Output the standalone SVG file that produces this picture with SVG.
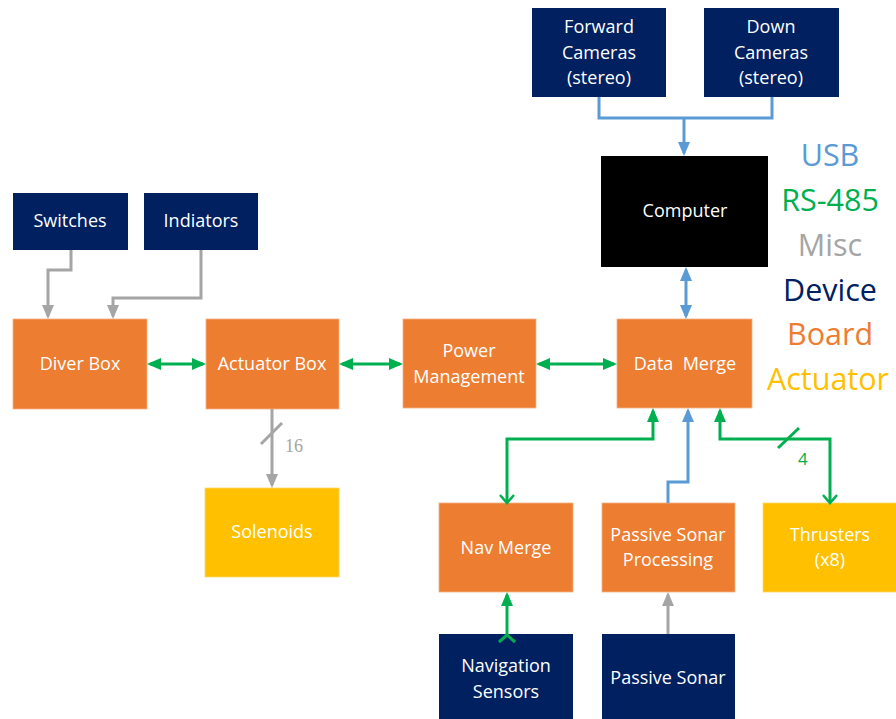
<svg xmlns="http://www.w3.org/2000/svg" width="896" height="719" viewBox="0 0 896 719">
<style>
.t{font-family:"Open Sans","Liberation Sans",sans-serif;font-size:18px;fill:#fff;text-anchor:middle}
.dev{fill:#002060}
.brd{fill:#ED7D31;stroke:#F4B183;stroke-width:0.8}
.act{fill:#FFC000;stroke:#FFD966;stroke-width:0.8}
.g{stroke:#00B050;stroke-width:3;fill:none}
.b{stroke:#5B9BD5;stroke-width:3;fill:none}
.m{stroke:#A5A5A5;stroke-width:3;fill:none}
.lg{font-family:"Open Sans","Liberation Sans",sans-serif;font-size:30.5px;text-anchor:middle}
.lab{font-family:"Open Sans","Liberation Sans",sans-serif;font-size:17px}
</style>
<defs>
<marker id="triG" markerUnits="userSpaceOnUse" markerWidth="14" markerHeight="12" refX="11" refY="6" orient="auto-start-reverse"><path d="M0,0 L14,6 L0,12 z" fill="#00B050"/></marker>
<marker id="triB" markerUnits="userSpaceOnUse" markerWidth="14" markerHeight="12" refX="11" refY="6" orient="auto-start-reverse"><path d="M0,0 L14,6 L0,12 z" fill="#5B9BD5"/></marker>
<marker id="triM" markerUnits="userSpaceOnUse" markerWidth="14" markerHeight="12" refX="11" refY="6" orient="auto-start-reverse"><path d="M0,0 L14,6 L0,12 z" fill="#A5A5A5"/></marker>
<marker id="chevG" markerUnits="userSpaceOnUse" markerWidth="12" markerHeight="16" refX="9" refY="8" orient="auto-start-reverse"><path d="M1,1 L9,8 L1,15" fill="none" stroke="#00B050" stroke-width="2.5"/></marker>
</defs>
<rect width="896" height="719" fill="#fff"/>

<g id="forward-cameras"><rect class="dev" x="532" y="8" width="134" height="89"/><text class="t" x="599" y="33">Forward</text><text class="t" x="599" y="59">Cameras</text><text class="t" x="599" y="84">(stereo)</text></g>
<g id="down-cameras"><rect class="dev" x="704" y="8" width="135" height="89"/><text class="t" x="771" y="33">Down</text><text class="t" x="771" y="59">Cameras</text><text class="t" x="771" y="84">(stereo)</text></g>
<g id="computer"><rect x="601" y="156" width="167" height="111" fill="#000"/><text class="t" x="685" y="217">Computer</text></g>
<g id="switches"><rect class="dev" x="13" y="193" width="115" height="57"/><text class="t" x="70" y="227">Switches</text></g>
<g id="indiators"><rect class="dev" x="144" y="193" width="114" height="57"/><text class="t" x="201" y="227">Indiators</text></g>
<g id="diver-box"><rect class="brd" x="13" y="319" width="134" height="90"/><text class="t" x="80" y="370">Diver Box</text></g>
<g id="actuator-box"><rect class="brd" x="206" y="319" width="133" height="90"/><text class="t" x="272" y="370">Actuator Box</text></g>
<g id="power-management"><rect class="brd" x="403" y="319" width="133" height="89"/><text class="t" x="469" y="357">Power</text><text class="t" x="469" y="383">Management</text></g>
<g id="data-merge"><rect class="brd" x="617" y="319" width="135" height="89"/><text class="t" x="685" y="370" xml:space="preserve">Data  Merge</text></g>
<g id="solenoids"><rect class="act" x="205" y="488" width="134" height="89"/><text class="t" x="272" y="538">Solenoids</text></g>
<g id="nav-merge"><rect class="brd" x="439" y="503" width="134" height="89"/><text class="t" x="506" y="554">Nav Merge</text></g>
<g id="passive-sonar-processing"><rect class="brd" x="602" y="503" width="133" height="89"/><text class="t" x="668" y="541">Passive Sonar</text><text class="t" x="668" y="566">Processing</text></g>
<g id="thrusters"><rect class="act" x="763" y="503" width="135" height="89"/><text class="t" x="830" y="541">Thrusters</text><text class="t" x="830" y="566">(x8)</text></g>
<g id="navigation-sensors"><rect class="dev" x="439" y="634" width="134" height="89"/><text class="t" x="506" y="672">Navigation</text><text class="t" x="506" y="698">Sensors</text></g>
<g id="passive-sonar"><rect class="dev" x="602" y="634" width="133" height="89"/><text class="t" x="668" y="684">Passive Sonar</text></g>

<g id="legend">
<text class="lg" x="830" y="166" fill="#5B9BD5">USB</text>
<text class="lg" x="830" y="211" fill="#00B050">RS-485</text>
<text class="lg" x="830" y="256" fill="#A5A5A5">Misc</text>
<text class="lg" x="830" y="301" fill="#002060">Device</text>
<text class="lg" x="830" y="345" fill="#ED7D31">Board</text>
<text class="lg" x="828" y="390" fill="#FFC000">Actuator</text>
</g>

<g id="connectors">
<polyline class="b" points="599,97 599,118 772,118 772,97"/>
<line class="b" x1="684" y1="118" x2="684" y2="153" marker-end="url(#triB)"/>
<line class="b" x1="686" y1="270" x2="686" y2="316" marker-start="url(#triB)" marker-end="url(#triB)"/>
<polyline class="m" points="71,250 71,270 48,270 48,316" marker-end="url(#triM)"/>
<polyline class="m" points="201,250 201,298 113,298 113,316" marker-end="url(#triM)"/>
<line class="g" x1="150" y1="364" x2="203" y2="364" marker-start="url(#triG)" marker-end="url(#triG)"/>
<line class="g" x1="342" y1="364" x2="400" y2="364" marker-start="url(#triG)" marker-end="url(#triG)"/>
<line class="g" x1="539" y1="364" x2="614" y2="364" marker-start="url(#triG)" marker-end="url(#triG)"/>
<line class="m" x1="272" y1="409" x2="272" y2="485" marker-end="url(#triM)"/>
<line class="m" x1="261" y1="444" x2="282" y2="423" stroke-width="2.5"/>
<text x="285" y="452" fill="#A5A5A5" font-family="Liberation Serif, serif" font-size="18">16</text>
<polyline class="g" points="507,503 507,439 653,439 653,411" marker-start="url(#chevG)" marker-end="url(#triG)"/>
<polyline class="b" points="668,503 668,482 688,482 688,411" marker-end="url(#triB)"/>
<polyline class="g" points="830,503 830,439 720,439 720,411" marker-start="url(#chevG)" marker-end="url(#triG)"/>
<line class="g" x1="778" y1="448" x2="799" y2="428" stroke-width="2.5"/>
<text class="lab" x="798" y="465" fill="#00B050">4</text>
<line class="g" x1="507" y1="636" x2="507" y2="595" marker-end="url(#triG)"/>
<polyline class="g" points="499,642 507,635 515,642" stroke-width="2.5"/>
<line class="m" x1="668" y1="634" x2="668" y2="595" marker-end="url(#triM)"/>
</g>
</svg>
